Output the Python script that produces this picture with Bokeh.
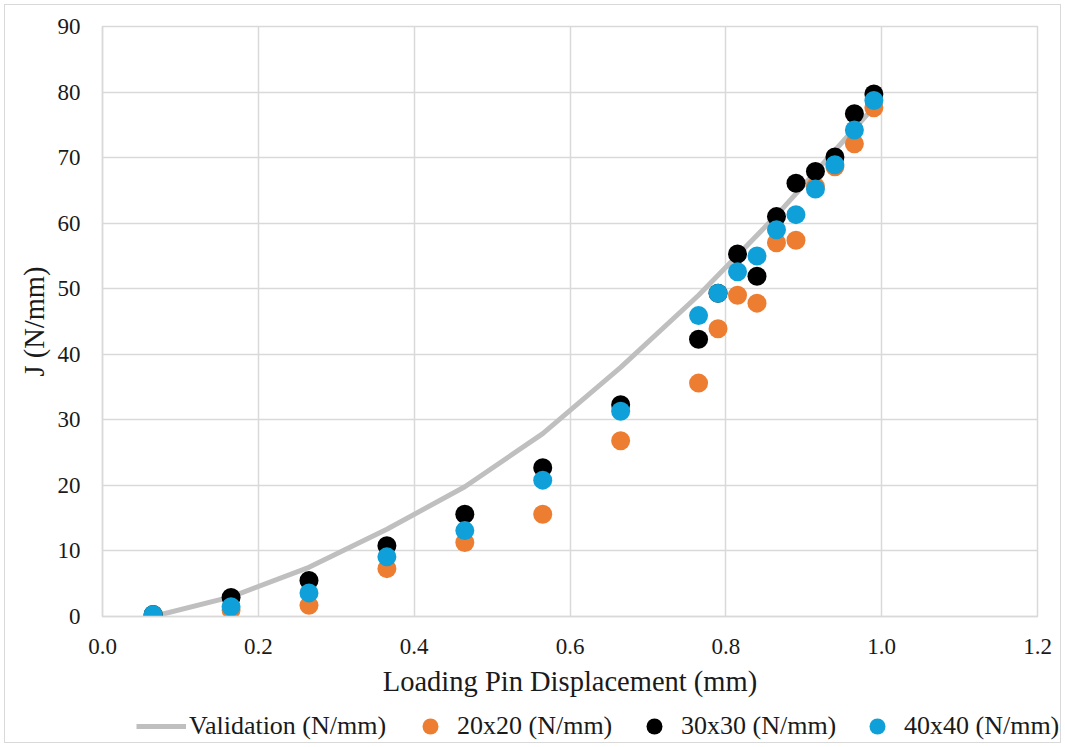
from bokeh.plotting import figure
from bokeh.models import (FixedTicker, PrintfTickFormatter, Legend, LegendItem, Range1d)
from bokeh.layouts import column
from bokeh.embed import file_html
from bokeh.resources import INLINE

# ---- data ----
x_disp = [0.065, 0.165, 0.265, 0.365, 0.465, 0.565, 0.665, 0.765, 0.79, 0.815,
          0.84, 0.865, 0.89, 0.915, 0.94, 0.965, 0.99]
j_20x20 = [0.2, 1.0, 1.7, 7.3, 11.3, 15.6, 26.8, 35.6, 43.9, 49.0,
           47.8, 57.0, 57.4, 65.6, 68.6, 72.1, 77.6]
j_30x30 = [0.3, 2.9, 5.5, 10.8, 15.6, 22.7, 32.3, 42.3, 49.3, 55.3,
           51.9, 61.0, 66.1, 67.9, 70.1, 76.7, 79.7]
j_40x40 = [0.3, 1.5, 3.6, 9.1, 13.1, 20.8, 31.3, 45.9, 49.3, 52.6,
           55.0, 59.0, 61.3, 65.2, 68.9, 74.2, 78.7]
x_valid = [0.065, 0.165, 0.265, 0.365, 0.465, 0.565, 0.665, 0.765, 0.865, 0.965, 0.99]
j_valid = [0.0, 3.0, 7.5, 13.3, 19.8, 27.9, 38.0, 49.0, 61.2, 74.4, 77.7]
x_ticks = [0.0, 0.2, 0.4, 0.6, 0.8, 1.0, 1.2]
y_ticks = [0, 10, 20, 30, 40, 50, 60, 70, 80, 90]
labels = ["Validation (N/mm)", "20x20 (N/mm)", "30x30 (N/mm)", "40x40 (N/mm)"]

FONT = "'Liberation Serif', 'Times New Roman', serif"
GRID = "#D9D9D9"
LINE = "#BFBFBF"
ORANGE = "#ED7D31"
BLACK = "#000000"
BLUE = "#0FA0D9"
TXT = "#1a1a1a"
NAN = float("nan")

p = figure(width=1065, height=700, output_backend="svg", toolbar_location=None,
           x_range=Range1d(0, 1.2), y_range=Range1d(0, 90),
           min_border_left=102, min_border_right=28, min_border_top=26,
           min_border_bottom=84)
p.frame_align = False
p.background_fill_color = "white"
p.border_fill_alpha = 0
p.outline_line_color = GRID
p.outline_line_width = 1.5

for ax in (p.xaxis[0], p.yaxis[0]):
    ax.axis_line_color = GRID
    ax.axis_line_width = 1.5
    ax.major_tick_line_color = None
    ax.minor_tick_line_color = None
    ax.major_label_text_font = FONT
    ax.major_label_text_font_size = "23px"
    ax.major_label_text_color = TXT
    ax.axis_label_text_font = FONT
    ax.axis_label_text_font_size = "28.5px"
    ax.axis_label_text_font_style = "normal"
    ax.axis_label_text_color = TXT

p.xaxis[0].ticker = FixedTicker(ticks=x_ticks)
p.xaxis[0].formatter = PrintfTickFormatter(format="%.1f")
p.xaxis[0].major_label_standoff = 16
p.xaxis[0].axis_label = "Loading Pin Displacement (mm)"
p.xaxis[0].axis_label_standoff = 9
p.yaxis[0].ticker = FixedTicker(ticks=y_ticks)
p.yaxis[0].major_label_standoff = 16
p.yaxis[0].axis_label = "J (N/mm)"
p.yaxis[0].axis_label_standoff = 5

p.xgrid.ticker = FixedTicker(ticks=x_ticks)
p.ygrid.ticker = FixedTicker(ticks=y_ticks)
p.grid.grid_line_color = GRID
p.grid.grid_line_width = 1.5

p.line(x_valid, j_valid, line_color=LINE, line_width=5)
p.scatter(x_disp, j_20x20, size=19, fill_color=ORANGE, line_color=None)
p.scatter(x_disp, j_30x30, size=19, fill_color=BLACK, line_color=None)
p.scatter(x_disp, j_40x40, size=19, fill_color=BLUE, line_color=None)

# ---- legend strip below the chart ----
p2 = figure(width=1065, height=47, output_backend="svg", toolbar_location=None,
            x_axis_type=None, y_axis_type=None, x_range=Range1d(0, 1), y_range=Range1d(0, 1),
            min_border=0)
p2.frame_align = False
p2.outline_line_color = None
p2.background_fill_alpha = 0
p2.border_fill_alpha = 0
lr_val = p2.line(x=[NAN, NAN], y=[NAN, NAN], line_color=LINE, line_width=5)
lr20 = p2.scatter(x=[NAN], y=[NAN], size=16, fill_color=ORANGE, line_color=None)
lr30 = p2.scatter(x=[NAN], y=[NAN], size=16, fill_color=BLACK, line_color=None)
lr40 = p2.scatter(x=[NAN], y=[NAN], size=16, fill_color=BLUE, line_color=None)

legend_specs = [
    (lr_val, labels[0], 136, 50, 3),
    (lr20, labels[1], 410, 40, 7),
    (lr30, labels[2], 634, 40, 7),
    (lr40, labels[3], 857, 40, 7),
]
for r, lab, xoff, gw, sd in legend_specs:
    lg = Legend(items=[LegendItem(label=lab, renderers=[r])], location=(xoff, 1),
                orientation="horizontal", glyph_width=gw, glyph_height=40,
                label_standoff=sd, padding=0, margin=0, spacing=0,
                border_line_color=None, background_fill_alpha=0,
                label_text_font=FONT, label_text_font_size="26px",
                label_text_color=TXT)
    p2.add_layout(lg, "center")

layout = column(p, p2, spacing=0)
layout.styles = {"background-color": "white", "outline": "1.5px solid #D9D9D9",
                 "outline-offset": "-5px"}
open("out.html", "w").write(file_html(layout, INLINE))
